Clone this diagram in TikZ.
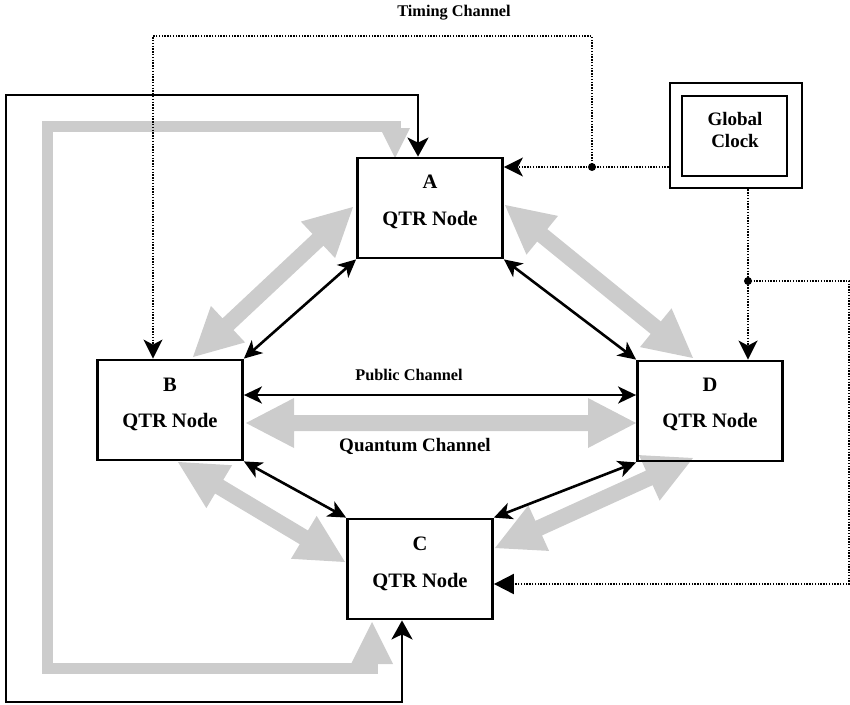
\documentclass[tikz,border=0pt]{standalone}
\usepackage{fontspec}
\setmainfont{Liberation Serif}
\usetikzlibrary{arrows.meta,calc}

\definecolor{qgray}{RGB}{204,204,204}

% wide double-headed block arrow between two named points
\newcommand\qarrow[2]{%
  \path (#1); \pgfgetlastxy\qxa\qya
  \path (#2); \pgfgetlastxy\qxb\qyb
  \pgfmathsetmacro\qang{atan2(\qyb-\qya,\qxb-\qxa)}%
  \pgfmathsetmacro\qlen{veclen(\qxb-\qxa,\qyb-\qya)}%
  \fill[qgray, shift={(#1)}, rotate=\qang, x=1pt, y=1pt]
    (0,0) -- (48,25) -- (48,8) -- (\qlen-48,8) -- (\qlen-48,25) -- (\qlen,0)
    -- (\qlen-48,-25) -- (\qlen-48,-8) -- (48,-8) -- (48,-25) -- cycle;
}

\begin{document}
\begin{tikzpicture}[x=1pt,y=-1pt,
  qtr/.style={draw, line width=2.8pt, minimum width=145pt, minimum height=100pt, inner sep=0pt},
  clockbox/.style={draw, line width=2.8pt, inner sep=0pt},
  lbl/.style={font=\bfseries\fontsize{20.5}{22}\selectfont, inner sep=0pt},
  clocklbl/.style={font=\bfseries\fontsize{19}{22}\selectfont, inner sep=0pt, align=center},
  chanlbl/.style={font=\bfseries\fontsize{16.3}{18}\selectfont, inner sep=0pt},
  solidlink/.style={line width=2.6pt, {Stealth[length=18pt,width=17pt,inset=5pt]}-{Stealth[length=18pt,width=17pt,inset=5pt]}},
  looplink/.style={line width=2.6pt, {Stealth[length=19pt,width=21pt,inset=5pt]}-{Stealth[length=19pt,width=21pt,inset=5pt]}},
  timing/.style={line width=2pt, dash pattern=on 1.4pt off 1.4pt},
  tiptiming/.style={-{Stealth[length=19pt,width=19pt,inset=5pt]}},
  junction/.style={fill=black}
]
\useasboundingbox (0,0) rectangle (850,704);

% gray quantum-channel loop on the far left (drawn first, beneath everything)
\coordinate (gl-c) at (372,622);
\coordinate (gl-a) at (395,158);
\draw[qgray, line width=11pt, miter limit=10] (372,660) -- (372,668) -- (47,668) -- (47,126) -- (395,126) -- (395,132);
\fill[qgray] (gl-a) -- (380,128) -- (410,128) -- cycle;
\fill[qgray] (gl-c) -- (351,664) -- (393,664) -- cycle;

% gray quantum-channel block arrows
\coordinate (q-ab1) at (353,207);
\coordinate (q-ab2) at (193,357);
\coordinate (q-ad1) at (505,205);
\coordinate (q-ad2) at (693,358);
\coordinate (q-bc1) at (178,462);
\coordinate (q-bc2) at (345,562);
\coordinate (q-cd1) at (495,548);
\coordinate (q-cd2) at (693,458);
\coordinate (q-bd1) at (246,423);
\coordinate (q-bd2) at (636,423);
\qarrow{q-ab1}{q-ab2}
\qarrow{q-ad1}{q-ad2}
\qarrow{q-bc1}{q-bc2}
\qarrow{q-cd1}{q-cd2}
\qarrow{q-bd1}{q-bd2}

% QTR nodes
\node[qtr] (A) at (430,208) {};
\node[qtr] (B) at (170,410) {};
\node[qtr] (C) at (420,569) {};
\node[qtr] (D) at (710,411) {};

\node[lbl] (A-name) at (430,182) {A};
\node[lbl] (A-type) at (430,220) {QTR Node};
\node[lbl] (B-name) at (170,385) {B};
\node[lbl] (B-type) at (170,422) {QTR Node};
\node[lbl] (C-name) at (420,544) {C};
\node[lbl] (C-type) at (420,582) {QTR Node};
\node[lbl] (D-name) at (710,385) {D};
\node[lbl] (D-type) at (710,422) {QTR Node};

% global clock (double frame)
\node[clockbox, minimum width=132pt, minimum height=105pt] (clock) at (736,135.5) {};
\node[clockbox, minimum width=105pt, minimum height=80pt] (clock-in) at (734.5,136) {};
\node[clocklbl] (clock-text) at (735,130) {Global\\Clock};

% public channels between the nodes
\draw[solidlink] (A.south west) -- (B.north east);
\draw[solidlink] (A.south east) -- (D.north west);
\draw[solidlink] (B.south east) -- (C.north west);
\draw[solidlink] (C.north east) -- (D.south west);
\draw[solidlink] ([yshift=15pt]B.east) -- ([yshift=15pt]B.east -| D.west);

% outer public loop from C round to A
\coordinate (loop-bl) at (6,702);
\coordinate (loop-tl) at (6,95);
\draw[looplink] ([xshift=-18pt]C.south) |- (loop-bl) -- (loop-tl) -| ([xshift=-12pt]A.north);

% timing channel
\coordinate (tj) at (592,167);
\coordinate (tt) at (153,36);
\coordinate (dj) at (748,281);
\coordinate (cr) at (849,584);
\draw[timing, tiptiming] (clock.west |- tj) -- (A.east |- tj);
\draw[timing, tiptiming] (tj) |- (tt) -- ([xshift=-17pt]B.north);
\draw[timing, tiptiming] (clock.south -| dj) -- (D.north -| dj);
\draw[timing, -{Triangle[length=20pt,width=20pt]}] (dj) -| (cr) -- (C.east |- cr);
\fill[junction] (tj) circle[radius=4pt];
\fill[junction] (dj) circle[radius=4pt];

% channel labels
\node[chanlbl] (timing-label) at (454,13) {Timing Channel};
\node[chanlbl] (public-label) at (409,375) {Public Channel};
\node[lbl, font=\bfseries\fontsize{19}{22}\selectfont] (quantum-label) at (415,446) {Quantum Channel};
\end{tikzpicture}
\end{document}
